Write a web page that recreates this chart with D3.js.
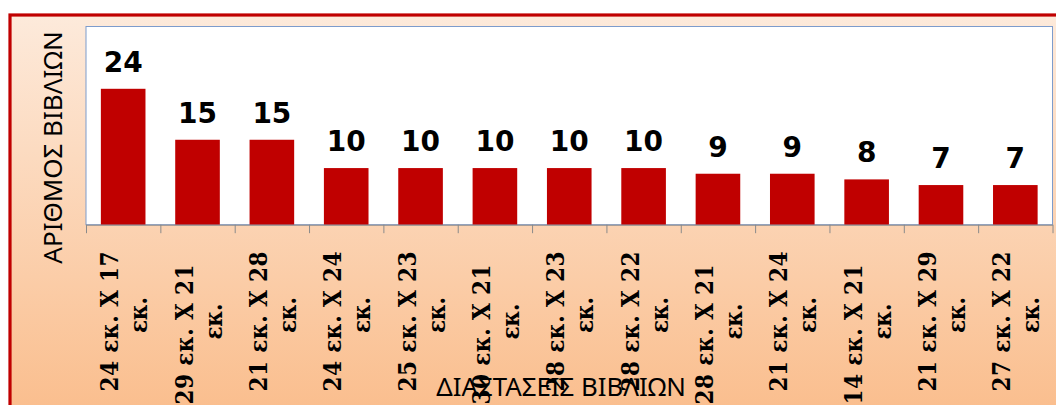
<!DOCTYPE html>
<html>
<head>
<meta charset="utf-8">
<script src="https://cdn.jsdelivr.net/npm/d3@7"></script>
<style>
html,body{margin:0;padding:0;background:#fff;}
svg{display:block;}
</style>
</head>
<body>
<svg id="chart" width="1056" height="405"></svg>
<script>
// ---- data ----
const categories = [
  "24 εκ. Χ 17 εκ.",
  "29 εκ. Χ 21  εκ.",
  "21 εκ. Χ 28 εκ.",
  "24 εκ. Χ 24 εκ.",
  "25 εκ. Χ 23 εκ.",
  "30 εκ. Χ 21  εκ.",
  "28 εκ. Χ 23 εκ.",
  "28 εκ. Χ 22 εκ.",
  "28 εκ. Χ 21  εκ.",
  "21 εκ. Χ 24 εκ.",
  "14 εκ. Χ 21  εκ.",
  "21 εκ. Χ 29 εκ.",
  "27 εκ. Χ 22 εκ."
];
const values = [24, 15, 15, 10, 10, 10, 10, 10, 9, 9, 8, 7, 7];
const yTitle = "ΑΡΙΘΜΟΣ ΒΙΒΛΙΩΝ";
const xTitle = "ΔΙΑΣΤΑΣΕΙΣ ΒΙΒΛΙΩΝ";

// ---- layout ----
const svg = d3.select("#chart");
const plot = {left: 86, right: 1052.5, top: 26.5, bottom: 224.7};

const defs = svg.append("defs");
const grad = defs.append("linearGradient").attr("id", "bg")
  .attr("x1", 0).attr("y1", 0).attr("x2", 0).attr("y2", 1);
grad.append("stop").attr("offset", "0%").attr("stop-color", "#fdeadb");
grad.append("stop").attr("offset", "100%").attr("stop-color", "#fabd8c");

// chart area with red border (extends beyond the window on right/bottom)
svg.append("rect")
  .attr("x", 10).attr("y", 15).attr("width", 1070).attr("height", 405)
  .attr("fill", "url(#bg)")
  .attr("stroke", "#c00000").attr("stroke-width", 3.2);

// plot area
svg.append("rect")
  .attr("x", plot.left).attr("y", plot.top)
  .attr("width", plot.right - plot.left).attr("height", plot.bottom - plot.top)
  .attr("fill", "#ffffff")
  .attr("stroke", "#7d9ccc").attr("stroke-width", 1);

const x = d3.scaleBand().domain(categories)
  .range([plot.left, plot.right]).paddingInner(0.4).paddingOuter(0.2);
const y = d3.scaleLinear().domain([0, 35]).range([plot.bottom, plot.top]);

// bars
svg.append("g").selectAll("rect").data(values).join("rect")
  .attr("x", (d, i) => x(categories[i]))
  .attr("y", d => y(d))
  .attr("width", x.bandwidth())
  .attr("height", d => y(0) - y(d))
  .attr("fill", "#c00000");

// axis with ticks between categories
const xEdge = d3.scaleLinear().domain([0, categories.length]).range([plot.left, plot.right]);
const axisG = svg.append("g").attr("transform", `translate(0,${plot.bottom})`)
  .call(d3.axisBottom(xEdge).tickValues(d3.range(categories.length + 1))
    .tickSize(8.5).tickSizeOuter(0).tickFormat(""));
axisG.select(".domain").attr("stroke", "#8a8a8a");
axisG.selectAll(".tick line").attr("stroke", "#8a8a8a");

// value labels
svg.append("g").selectAll("text").data(values).join("text")
  .attr("x", (d, i) => x(categories[i]) + x.bandwidth() / 2)
  .attr("y", d => y(d) - 17)
  .attr("text-anchor", "middle")
  .attr("font-family", "DejaVu Sans")
  .attr("font-weight", "bold")
  .attr("font-size", 28)
  .attr("fill", "#000")
  .text(d => d);

// category labels (rotated, two lines, centred, monospaced slots)
const charW = 13;
const labelTop = plot.bottom + 10.8;
const lg = svg.append("g");
categories.forEach((c, i) => {
  const m = c.match(/^(.*?\s+)(εκ\.)$/);
  const lines = m ? [m[1], m[2]] : [c];
  const cx = x(categories[i]) + x.bandwidth() / 2;
  const block = d3.max(lines, l => l.length) * charW;
  const g = lg.append("g")
    .attr("transform", `translate(${cx},${labelTop + block / 2}) rotate(-90)`);
  lines.forEach((t, k) => {
    const trimmed = t.replace(/\s+$/, "");
    const slot = t.length * charW;
    g.append("text")
      .attr("x", -slot / 2)
      .attr("y", k === 0 ? -5 : 24)
      .attr("text-anchor", "start")
      .attr("font-family", "'DejaVu Serif Condensed', 'DejaVu Serif', serif")
      .attr("font-weight", "bold")
      .attr("font-size", 24)
      .attr("textLength", trimmed.length * charW - 3)
      .attr("lengthAdjust", "spacing")
      .attr("fill", "#000")
      .text(trimmed);
  });
});

// axis titles
svg.append("text")
  .attr("transform", "translate(62,147.5) rotate(-90)")
  .attr("text-anchor", "middle")
  .attr("font-family", "Noto Sans")
  .attr("font-size", 26)
  .attr("fill", "#000")
  .text(yTitle);

svg.append("text")
  .attr("x", 561).attr("y", 396)
  .attr("text-anchor", "middle")
  .attr("font-family", "Noto Sans")
  .attr("font-size", 25.8)
  .attr("fill", "#000")
  .text(xTitle);
</script>
</body>
</html>
